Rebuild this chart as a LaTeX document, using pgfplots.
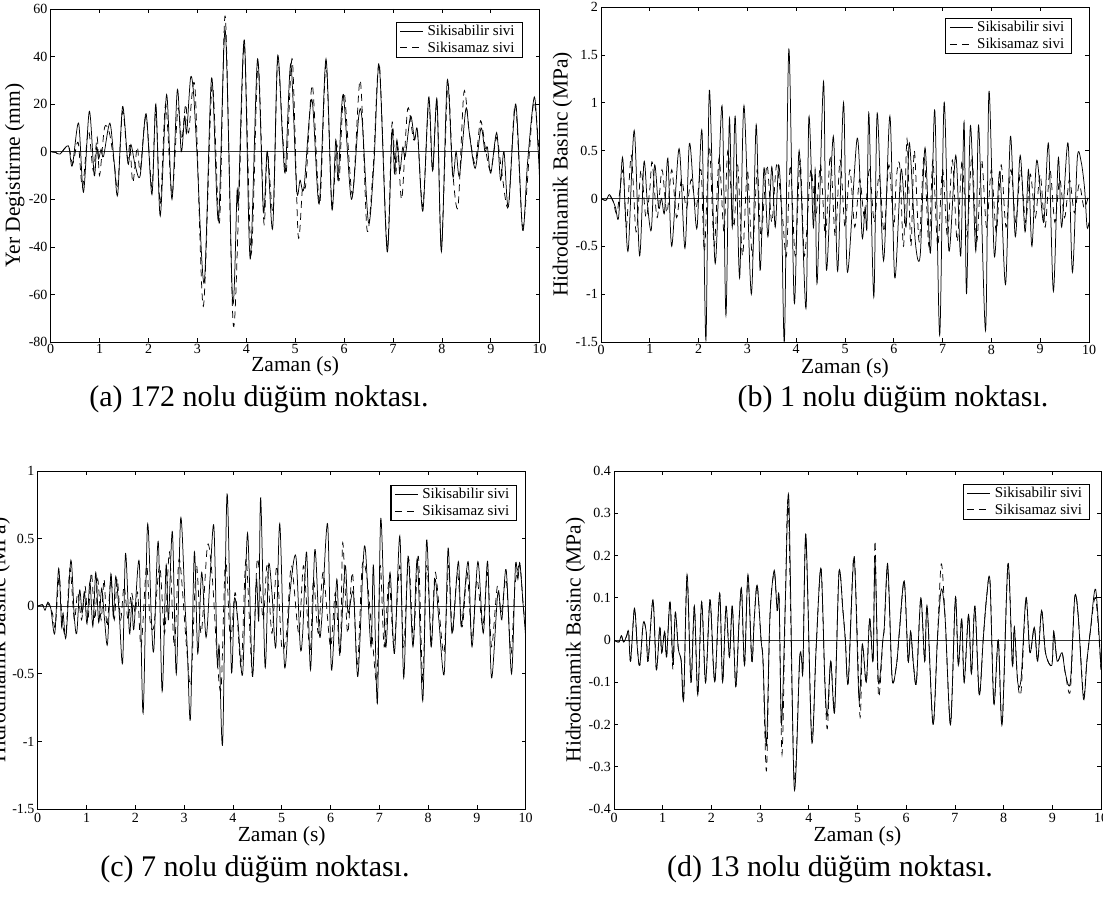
\documentclass[border=0pt]{standalone}
\usepackage{fontspec}
\setmainfont{Liberation Serif}
\usepackage{pgfplots}
\pgfplotsset{compat=1.18}
\pgfplotsset{
  panel/.style={
    scale only axis, anchor=north west,
    xmin=0, xmax=10, xtick={0,1,...,10},
    tick align=inside, major tick length=4pt,
    axis line style={line width=0.8pt},
    every tick/.style={black, line width=0.7pt},
    /pgf/number format/assume math mode=true,
    tick label style={font=\fontsize{14}{14}\selectfont},
    xticklabel style={inner sep=0pt},
    yticklabel style={inner sep=0pt, xshift=-3pt},
    label style={font=\fontsize{21.5}{22}\selectfont},
    ylabel style={anchor=center},
    xlabel style={at={(axis description cs:0.5,0)}, anchor=center},
    legend cell align=left,
    legend style={at={(1,1)}, anchor=north east, draw=black, line width=1.1pt, fill=white,
      font=\fontsize{15}{15}\selectfont, inner xsep=3.5pt, inner ysep=2pt, row sep=2pt,
      nodes={inner xsep=4pt, inner ysep=1pt, text depth=0.2em}},
    legend image code/.code={\draw[#1] (0pt,0pt) -- (23pt,0pt);},
  },
  sline/.style={black, line width=0.75pt, smooth},
  dline/.style={black, line width=0.75pt, smooth, dash pattern=on 7pt off 5pt},
  zline/.style={black!80, line width=0.9pt, forget plot},
}
\begin{document}
\begin{tikzpicture}
\useasboundingbox (0pt,0pt) rectangle (1103pt,-899pt);
% ---------------- (a)
\begin{axis}[panel, at={(50.7pt,-9pt)}, width=489pt, height=333pt,
  ymin=-80, ymax=60, ytick={-80,-60,-40,-20,0,20,40,60},
  xticklabel style={yshift=-2pt},
  xlabel style={yshift=-24pt}, ylabel style={at={(axis description cs:-0.0736,0.5)}},
  xlabel={Zaman (s)}, ylabel={Yer Degistirme (mm)},
  legend style={xshift=-17pt, yshift=-12.7pt}]
\addplot[zline] coordinates {(0,0)(10,0)};
\addplot[sline] coordinates {(0,0)(0.1,-0.3)(0.19,-1)(0.36,2.5)(0.44,-6)(0.57,12)(0.67,-17)(0.79,17)(0.89,-10)(0.94,2)(0.98,-3)(1.03,1)(1.08,-2)(1.21,12)(1.3,-5)(1.37,-18)(1.47,19)(1.58,-5)(1.64,3)(1.73,-6)(1.83,-10)(1.95,16)(2.07,-18)(2.15,20)(2.24,-27)(2.37,24)(2.48,-20)(2.59,26)(2.67,0)(2.74,15)(2.78,8)(2.86,31)(2.92,25)(2.99,0)(3.14,-55)(3.29,31)(3.43,-29)(3.57,51)(3.72,-63)(3.81,-17)(3.84,-20)(3.96,47)(4.08,-45)(4.23,39)(4.35,-25)(4.43,0)(4.54,-32)(4.64,40)(4.74,6)(4.8,-8)(4.91,37)(5.03,-16)(5.1,-12)(5.18,-15)(5.34,22)(5.49,-22)(5.63,39)(5.75,-24)(5.83,5)(5.88,-12)(5.98,24)(6.15,-20)(6.3,15)(6.37,13)(6.5,-30)(6.61,-5)(6.72,36)(6.88,-42)(6.98,9)(7.03,-9)(7.08,5)(7.14,-8)(7.2,2)(7.25,-2)(7.36,15)(7.44,5)(7.5,9)(7.61,-25)(7.73,23)(7.81,-8)(7.9,22)(7.99,-42)(8.11,30)(8.22,-10)(8.29,0)(8.36,-10)(8.49,18)(8.56,8)(8.68,-7)(8.8,10)(8.88,0)(8.93,2)(9.0,-9)(9.12,8)(9.2,-12)(9.27,0)(9.36,-23)(9.51,20)(9.65,-33)(9.75,-5)(9.89,23)(9.97,0)(10,-13)};
\addlegendentry{Sikisabilir sivi}
\addplot[dline] coordinates {(0,0)(0.1,-0.3)(0.19,-1)(0.36,2.5)(0.45,-5)(0.56,4)(0.65,-15)(0.77,9)(0.87,-8)(0.95,6)(1.0,-10)(1.1,10)(1.2,8)(1.3,-5)(1.37,-15)(1.47,17)(1.57,-3)(1.62,3)(1.68,-13)(1.77,2)(1.83,-8)(1.95,15)(2.07,-15)(2.15,18)(2.24,-22)(2.35,20)(2.48,-18)(2.6,18)(2.68,5)(2.76,20)(2.82,8)(2.95,27)(3.12,-65)(3.3,28)(3.45,-30)(3.57,57)(3.73,-72)(3.85,-20)(3.96,45)(4.1,-43)(4.24,37)(4.36,-30)(4.43,0)(4.55,-25)(4.64,38)(4.75,5)(4.82,-8)(4.94,39)(5.06,-35)(5.15,-15)(5.22,-13)(5.35,28)(5.5,-22)(5.63,37)(5.75,-22)(5.85,3)(5.9,-12)(6.0,25)(6.17,-18)(6.33,30)(6.47,-33)(6.6,-5)(6.72,37)(6.88,-40)(6.98,12)(7.05,-10)(7.1,2)(7.18,-20)(7.3,18)(7.42,5)(7.5,8)(7.61,-23)(7.73,21)(7.81,-8)(7.9,20)(7.99,-40)(8.12,28)(8.22,-8)(8.33,-23)(8.45,25)(8.56,8)(8.68,-5)(8.79,13)(8.9,0)(9.0,-8)(9.12,6)(9.22,-8)(9.36,-23)(9.5,20)(9.64,-30)(9.72,-20)(9.88,21)(10,-5)};
\addlegendentry{Sikisamaz sivi}
\end{axis}
% ---------------- (b)
\begin{axis}[panel, at={(601pt,-7pt)}, width=488pt, height=335pt,
  ymin=-1.5, ymax=2, ytick={-1.5,-1,-0.5,0,0.5,1,1.5,2},
  xticklabel style={yshift=-2.5pt},
  xlabel style={yshift=-26pt}, ylabel style={at={(axis description cs:-0.079,0.5)}},
  xlabel={Zaman (s)}, ylabel={Hidrodinamik Basinc (MPa)},
  legend style={xshift=-16.7pt, yshift=-11pt}]
\addplot[zline] coordinates {(0,0)(10,0)};
\addplot[sline] coordinates {(0,0)(0.1,-0.02)(0.17,0.04)(0.24,-0.02)(0.3,-0.1)(0.36,-0.2)(0.44,0.43)(0.5,-0.15)(0.56,-0.53)(0.68,0.71)(0.79,-0.6)(0.88,0.38)(0.95,-0.05)(1.03,-0.33)(1.1,0.35)(1.18,-0.1)(1.24,0.0)(1.3,-0.15)(1.37,0.42)(1.45,-0.5)(1.6,0.52)(1.72,-0.52)(1.81,0.57)(1.9,0.05)(1.97,-0.3)(2.07,0.7)(2.15,-1.48)(2.22,1.13)(2.34,-0.68)(2.48,0.97)(2.56,-1.22)(2.63,0.83)(2.69,-0.3)(2.75,0.86)(2.84,-0.83)(2.93,0.97)(3.08,-1.0)(3.18,0.77)(3.26,-0.75)(3.34,0.32)(3.42,-0.4)(3.5,0.33)(3.57,-0.3)(3.64,0.35)(3.7,-0.15)(3.76,-1.47)(3.85,1.56)(3.96,-1.09)(4.06,0.5)(4.2,-1.15)(4.26,0.85)(4.35,-0.3)(4.39,0.3)(4.43,-0.88)(4.56,1.22)(4.62,-0.75)(4.76,0.65)(4.85,-0.76)(4.97,1.0)(5.05,-0.77)(5.25,0.63)(5.35,-0.4)(5.41,-0.1)(5.45,-0.3)(5.49,0.89)(5.59,-1.03)(5.66,0.89)(5.79,-0.65)(5.92,0.86)(6.02,-0.83)(6.15,0.3)(6.25,-0.3)(6.32,0.58)(6.44,-0.45)(6.54,-0.6)(6.64,0.53)(6.75,-0.57)(6.84,0.92)(6.94,-1.43)(7.03,1.0)(7.13,-0.55)(7.27,0.45)(7.37,-0.6)(7.44,0.8)(7.49,-1.0)(7.57,0.76)(7.68,-0.55)(7.74,0.76)(7.88,-1.38)(7.95,1.12)(8.06,-0.6)(8.17,0.28)(8.29,-0.9)(8.39,0.65)(8.49,-0.4)(8.59,0.45)(8.69,-0.35)(8.76,0.3)(8.83,-0.5)(8.93,0.4)(9.07,-0.25)(9.17,0.57)(9.27,-0.97)(9.37,0.42)(9.44,-0.3)(9.57,0.58)(9.66,-0.77)(9.76,0.42)(9.84,0.38)(9.91,0.1)(9.96,-0.3)(10,-0.25)};
\addlegendentry{Sikisabilir sivi}
\addplot[dline] coordinates {(0,0)(0.1,-0.02)(0.17,0.03)(0.25,-0.03)(0.33,-0.15)(0.45,0.3)(0.52,-0.3)(0.62,0.45)(0.72,-0.35)(0.82,0.3)(0.92,-0.2)(1.0,0.1)(1.05,0.38)(1.15,-0.2)(1.25,0.3)(1.35,-0.15)(1.45,0.3)(1.55,-0.2)(1.65,0.2)(1.75,-0.1)(1.85,0.2)(1.95,-0.1)(2.05,0.3)(2.12,-0.55)(2.22,0.55)(2.32,-0.5)(2.42,0.42)(2.52,-0.35)(2.6,0.5)(2.72,-0.3)(2.8,0.35)(2.9,-0.6)(3.0,0.3)(3.1,-0.6)(3.2,0.3)(3.28,-0.4)(3.4,0.35)(3.5,-0.25)(3.6,0.35)(3.72,-0.2)(3.8,-0.6)(3.88,0.35)(3.98,-0.6)(4.08,0.4)(4.17,-0.6)(4.3,0.3)(4.4,-0.2)(4.5,0.35)(4.6,-0.4)(4.7,0.45)(4.8,-0.4)(4.9,0.4)(5.0,-0.3)(5.1,0.3)(5.2,-0.3)(5.3,0.2)(5.4,-0.2)(5.5,0.3)(5.6,-0.25)(5.7,0.25)(5.8,-0.35)(5.9,0.35)(6.0,-0.3)(6.05,0.2)(6.12,0.35)(6.2,-0.5)(6.27,0.62)(6.35,-0.5)(6.42,0.5)(6.52,-0.45)(6.62,0.45)(6.72,-0.5)(6.8,0.4)(6.9,-0.5)(7.0,0.3)(7.1,-0.4)(7.2,0.4)(7.3,-0.45)(7.4,0.4)(7.5,-0.4)(7.6,0.45)(7.7,-0.45)(7.8,0.4)(7.9,-0.3)(8.0,0.3)(8.1,-0.35)(8.2,0.35)(8.3,-0.3)(8.4,0.3)(8.5,-0.25)(8.6,0.3)(8.7,-0.25)(8.8,0.25)(8.9,-0.2)(9.0,0.25)(9.1,-0.3)(9.2,0.3)(9.3,-0.25)(9.4,0.2)(9.5,-0.2)(9.6,0.2)(9.7,-0.15)(9.8,0.15)(9.9,-0.1)(10,0.05)};
\addlegendentry{Sikisamaz sivi}
\end{axis}
% ---------------- (c)
\begin{axis}[panel, at={(37.7pt,-471pt)}, width=488pt, height=338pt,
  ymin=-1.5, ymax=1, ytick={-1.5,-1,-0.5,0,0.5,1},
  xticklabel style={yshift=-4pt},
  xlabel style={yshift=-27pt}, ylabel style={at={(axis description cs:-0.077,0.5)}},
  xlabel={Zaman (s)}, ylabel={Hidrodinamik Basinc (MPa)},
  legend style={xshift=-8.3pt, yshift=-14pt}]
\addplot[zline] coordinates {(0,0)(10,0)};
\addplot[sline] coordinates {(0,0)(0.1,0.01)(0.15,-0.03)(0.21,0.03)(0.27,-0.02)(0.35,-0.2)(0.43,0.28)(0.49,-0.15)(0.52,-0.05)(0.58,-0.23)(0.68,0.34)(0.75,-0.08)(0.8,-0.2)(0.86,0.12)(0.91,-0.05)(0.96,0.1)(1.01,-0.13)(1.07,0.18)(1.13,-0.15)(1.19,0.25)(1.25,-0.12)(1.31,0.13)(1.37,-0.1)(1.43,-0.28)(1.5,0.24)(1.55,-0.08)(1.6,0.22)(1.67,-0.05)(1.74,-0.42)(1.8,0.39)(1.88,-0.2)(1.93,0.04)(1.97,-0.17)(2.08,0.33)(2.16,-0.79)(2.25,0.6)(2.33,-0.1)(2.38,-0.32)(2.47,0.48)(2.55,-0.63)(2.63,0.3)(2.68,-0.1)(2.76,0.55)(2.84,-0.5)(2.93,0.65)(3.02,0.0)(3.07,-0.35)(3.13,-0.83)(3.21,0.4)(3.28,-0.35)(3.36,0.25)(3.45,-0.23)(3.53,0.2)(3.61,0.59)(3.68,-0.42)(3.72,-0.3)(3.79,-1.01)(3.88,0.83)(3.97,-0.48)(4.03,0.05)(4.1,-0.1)(4.2,-0.5)(4.3,0.54)(4.4,-0.52)(4.48,0.2)(4.53,-0.1)(4.57,0.8)(4.66,-0.45)(4.73,0.3)(4.8,0.1)(4.88,-0.3)(4.96,0.61)(5.06,-0.45)(5.17,0.1)(5.29,0.37)(5.38,-0.3)(5.43,-0.2)(5.51,0.4)(5.59,-0.47)(5.68,0.42)(5.77,-0.2)(5.82,-0.1)(5.94,0.61)(6.02,-0.47)(6.13,0.2)(6.19,-0.35)(6.3,0.3)(6.36,-0.05)(6.47,0.1)(6.56,-0.52)(6.67,0.33)(6.72,0.4)(6.83,-0.3)(6.88,0.3)(6.96,-0.72)(7.03,0.65)(7.13,-0.3)(7.22,0.25)(7.31,-0.35)(7.42,0.52)(7.5,-0.53)(7.59,0.37)(7.69,-0.3)(7.78,0.35)(7.89,-0.7)(7.97,0.49)(8.06,-0.3)(8.14,0.2)(8.22,-0.1)(8.33,-0.5)(8.41,0.43)(8.49,-0.2)(8.62,0.33)(8.68,-0.15)(8.82,0.33)(8.9,-0.3)(9.02,0.33)(9.13,-0.2)(9.22,0.33)(9.3,-0.53)(9.43,0.1)(9.51,-0.1)(9.6,0.27)(9.71,-0.5)(9.79,0.3)(9.84,0.2)(9.88,0.32)(9.95,0.0)(10,-0.23)};
\addlegendentry{Sikisabilir sivi}
\addplot[dline] coordinates {(0,0)(0.1,0.01)(0.15,-0.02)(0.21,0.02)(0.3,-0.05)(0.36,-0.15)(0.44,0.22)(0.5,-0.1)(0.58,-0.2)(0.66,0.28)(0.75,-0.1)(0.82,0.1)(0.9,-0.1)(0.97,0.15)(1.03,-0.1)(1.1,0.25)(1.17,-0.1)(1.23,0.2)(1.3,-0.1)(1.36,0.2)(1.42,-0.15)(1.5,0.2)(1.57,-0.1)(1.63,0.2)(1.7,-0.1)(1.77,0.15)(1.85,-0.1)(1.92,0.1)(2.0,-0.05)(2.05,0.1)(2.12,-0.3)(2.23,0.3)(2.3,-0.1)(2.38,-0.15)(2.5,0.3)(2.6,-0.2)(2.7,0.4)(2.8,-0.3)(2.9,0.35)(3.05,-0.3)(3.14,-0.57)(3.25,0.3)(3.35,-0.2)(3.48,0.45)(3.58,0.2)(3.68,-0.4)(3.76,-0.6)(3.85,0.35)(3.95,-0.25)(4.05,0.1)(4.17,-0.45)(4.27,0.35)(4.4,-0.5)(4.5,0.35)(4.62,-0.1)(4.7,0.3)(4.8,-0.2)(4.9,0.3)(5.0,-0.3)(5.1,-0.2)(5.2,0.3)(5.35,-0.2)(5.45,0.3)(5.58,-0.35)(5.65,0.2)(5.75,-0.2)(5.85,0.25)(6.0,-0.3)(6.1,0.1)(6.2,-0.37)(6.25,0.47)(6.35,-0.2)(6.45,0.25)(6.55,-0.45)(6.65,0.3)(6.75,0.2)(6.85,-0.2)(6.95,-0.55)(7.02,0.3)(7.1,-0.3)(7.2,0.2)(7.3,-0.3)(7.42,0.3)(7.5,-0.3)(7.6,0.35)(7.7,-0.25)(7.8,0.37)(7.89,-0.55)(7.97,0.3)(8.07,-0.25)(8.15,0.25)(8.32,-0.35)(8.42,0.3)(8.5,-0.2)(8.6,0.25)(8.7,-0.15)(8.8,0.25)(8.9,-0.25)(9.0,0.2)(9.12,-0.15)(9.22,0.25)(9.3,-0.3)(9.42,0.15)(9.5,-0.05)(9.6,0.2)(9.7,-0.35)(9.78,0.15)(9.88,0.3)(9.95,0.0)(10,-0.15)};
\addlegendentry{Sikisamaz sivi}
\end{axis}
% ---------------- (d)
\begin{axis}[panel, at={(614pt,-471pt)}, width=487pt, height=338pt,
  ymin=-0.4, ymax=0.4, ytick={-0.4,-0.3,-0.2,-0.1,0,0.1,0.2,0.3,0.4},
  xticklabel style={yshift=-4pt},
  xlabel style={yshift=-27pt}, ylabel style={at={(axis description cs:-0.079,0.5)}},
  xlabel={Zaman (s)}, ylabel={Hidrodinamik Basinc (MPa)},
  legend style={xshift=-11pt, yshift=-12.7pt}]
\addplot[zline] coordinates {(0,0)(10,0)};
\addplot[sline] coordinates {(0,0)(0.1,-0.005)(0.15,0.01)(0.2,-0.005)(0.26,0.01)(0.3,0.02)(0.34,-0.05)(0.42,0.075)(0.48,-0.02)(0.53,-0.06)(0.6,0.04)(0.66,0.02)(0.7,-0.05)(0.8,0.095)(0.87,-0.07)(0.94,0.03)(0.98,-0.03)(1.04,0.02)(1.08,-0.04)(1.15,0.09)(1.21,-0.05)(1.26,0.065)(1.32,-0.02)(1.38,-0.05)(1.43,-0.14)(1.5,0.155)(1.58,-0.1)(1.65,0.08)(1.72,-0.13)(1.8,0.09)(1.88,-0.1)(1.97,0.095)(2.04,-0.06)(2.08,-0.09)(2.17,0.11)(2.23,-0.1)(2.3,0.08)(2.37,-0.04)(2.43,0.08)(2.5,-0.11)(2.57,0.05)(2.62,0.12)(2.68,-0.06)(2.75,0.155)(2.83,-0.05)(2.88,0.05)(2.94,0.13)(3.02,0.0)(3.06,-0.05)(3.13,-0.25)(3.2,0.05)(3.29,0.165)(3.35,0.07)(3.39,0.1)(3.44,-0.2)(3.52,0.1)(3.59,0.335)(3.7,-0.35)(3.81,-0.05)(3.85,-0.04)(3.88,-0.07)(3.94,0.25)(4.06,-0.24)(4.15,-0.02)(4.25,0.17)(4.33,-0.1)(4.38,-0.18)(4.45,-0.05)(4.53,-0.17)(4.62,0.16)(4.7,0.07)(4.75,0.0)(4.81,-0.1)(4.93,0.195)(5.03,-0.14)(5.1,-0.01)(5.18,-0.1)(5.25,0.05)(5.32,-0.05)(5.36,0.19)(5.43,-0.1)(5.52,0.0)(5.55,0.03)(5.62,0.18)(5.7,-0.07)(5.74,-0.1)(5.81,-0.05)(5.86,0.02)(5.96,0.14)(6.04,-0.05)(6.09,0.02)(6.15,-0.06)(6.21,-0.1)(6.3,0.1)(6.38,-0.05)(6.43,0.08)(6.55,-0.2)(6.64,0.0)(6.72,0.12)(6.8,0.05)(6.91,-0.2)(7.01,0.1)(7.07,-0.06)(7.14,0.05)(7.19,-0.1)(7.28,0.06)(7.34,-0.08)(7.41,0.08)(7.5,-0.13)(7.58,0.0)(7.65,0.1)(7.72,0.14)(7.8,-0.15)(7.89,0.0)(7.97,-0.2)(8.09,0.18)(8.18,-0.06)(8.22,0.03)(8.29,-0.1)(8.36,-0.09)(8.46,0.1)(8.54,-0.03)(8.63,0.03)(8.7,-0.05)(8.78,0.07)(8.86,-0.03)(8.99,-0.06)(9.03,0.02)(9.1,-0.05)(9.2,-0.03)(9.27,-0.08)(9.37,-0.1)(9.46,0.1)(9.53,0.06)(9.64,-0.14)(9.71,-0.05)(9.78,0.02)(9.89,0.12)(10,-0.07)};
\addlegendentry{Sikisabilir sivi}
\addplot[dline] coordinates {(0,0)(0.1,-0.005)(0.15,0.01)(0.2,-0.005)(0.26,0.01)(0.3,0.02)(0.34,-0.05)(0.42,0.075)(0.48,-0.02)(0.53,-0.06)(0.6,0.04)(0.66,0.02)(0.7,-0.05)(0.8,0.095)(0.87,-0.07)(0.94,0.03)(0.98,-0.03)(1.04,0.02)(1.08,-0.04)(1.15,0.095)(1.21,-0.07)(1.26,0.065)(1.32,-0.02)(1.38,-0.05)(1.43,-0.14)(1.5,0.15)(1.58,-0.1)(1.65,0.08)(1.72,-0.13)(1.8,0.09)(1.88,-0.1)(1.97,0.095)(2.04,-0.06)(2.08,-0.09)(2.17,0.11)(2.23,-0.1)(2.3,0.08)(2.37,-0.04)(2.43,0.08)(2.5,-0.11)(2.57,0.05)(2.62,0.12)(2.68,-0.06)(2.75,0.15)(2.83,-0.05)(2.88,0.05)(2.94,0.13)(3.02,0.0)(3.06,-0.05)(3.13,-0.31)(3.2,0.05)(3.29,0.16)(3.35,0.07)(3.39,0.1)(3.45,-0.27)(3.52,0.1)(3.58,0.32)(3.7,-0.33)(3.81,-0.05)(3.85,-0.04)(3.88,-0.07)(3.94,0.24)(4.06,-0.23)(4.15,-0.02)(4.25,0.17)(4.33,-0.1)(4.38,-0.21)(4.45,-0.05)(4.53,-0.16)(4.62,0.16)(4.7,0.07)(4.75,0.0)(4.81,-0.1)(4.93,0.2)(5.05,-0.18)(5.1,-0.01)(5.18,-0.1)(5.25,0.05)(5.32,-0.05)(5.36,0.235)(5.43,-0.13)(5.52,0.0)(5.55,0.03)(5.62,0.17)(5.7,-0.07)(5.74,-0.1)(5.81,-0.05)(5.86,0.02)(5.96,0.14)(6.04,-0.05)(6.09,0.02)(6.15,-0.06)(6.21,-0.1)(6.3,0.1)(6.38,-0.05)(6.43,0.08)(6.55,-0.2)(6.64,0.0)(6.72,0.18)(6.8,0.05)(6.91,-0.2)(7.01,0.1)(7.07,-0.06)(7.14,0.05)(7.19,-0.1)(7.28,0.06)(7.34,-0.08)(7.41,0.08)(7.5,-0.13)(7.58,0.0)(7.65,0.1)(7.72,0.14)(7.8,-0.15)(7.89,0.0)(7.97,-0.2)(8.09,0.18)(8.18,-0.06)(8.22,0.03)(8.29,-0.1)(8.36,-0.12)(8.46,0.1)(8.54,-0.03)(8.63,0.03)(8.7,-0.05)(8.78,0.07)(8.86,-0.03)(8.99,-0.06)(9.03,0.02)(9.1,-0.05)(9.2,-0.03)(9.27,-0.08)(9.37,-0.12)(9.46,0.1)(9.53,0.06)(9.64,-0.13)(9.71,-0.05)(9.78,0.02)(9.89,0.1)(10,-0.07)};
\addlegendentry{Sikisamaz sivi}
\end{axis}
% ---------------- captions
\node[font=\fontsize{30}{30}\selectfont] at (259pt,-399pt) {(a) 172 nolu düğüm noktası.};
\node[font=\fontsize{30}{30}\selectfont] at (893pt,-399pt) {(b) 1 nolu düğüm noktası.};
\node[font=\fontsize{30}{30}\selectfont] at (255pt,-869pt) {(c) 7 nolu düğüm noktası.};
\node[font=\fontsize{30}{30}\selectfont] at (830pt,-869pt) {(d) 13 nolu düğüm noktası.};
\end{tikzpicture}
\end{document}
